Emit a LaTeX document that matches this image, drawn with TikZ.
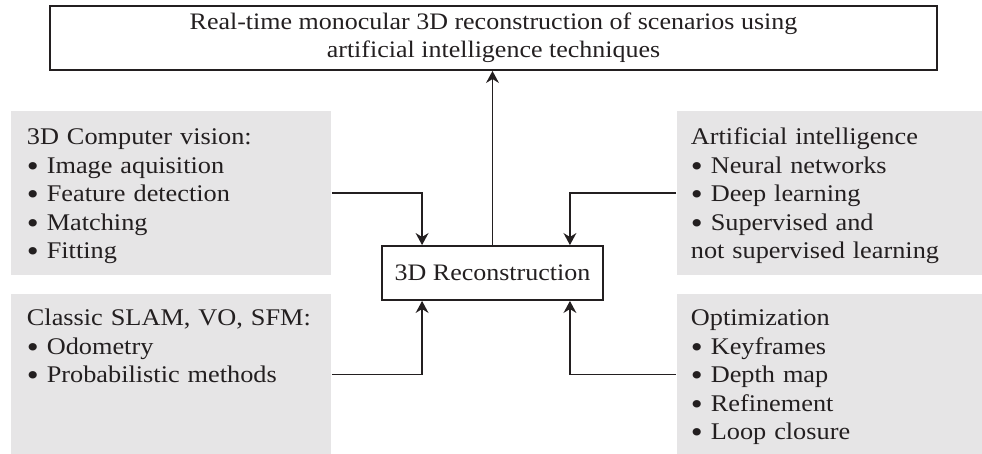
\documentclass[tikz,border=0pt]{standalone}
\usepackage{fontspec}
\setmainfont[FakeStretch=1.1]{Liberation Serif}
\usetikzlibrary{arrows.meta}

\definecolor{inkblack}{RGB}{35,31,32}
\definecolor{panelgray}{RGB}{230,229,230}
\newcommand{\itemdot}{\raisebox{-2.2pt}{\fontsize{22}{20}\selectfont\textbullet}\ }

\begin{document}
\begin{tikzpicture}[x=0.025cm, y=0.025cm, color=inkblack, line width=1.3pt,
  panel/.style={fill=panelgray, anchor=north west, align=left,
    inner xsep=0.4cm, inner ysep=0pt,
    font=\fontsize{17}{20.2}\selectfont},
  flow/.style={-{Stealth[length=0.3cm,width=0.32cm]}}]
\useasboundingbox (0,0) rectangle (982,-454);
% goal of the work
\node[draw, minimum width=22.175cm, minimum height=1.6cm, inner sep=0pt,
  align=center, font=\fontsize{16.8}{19.9}\selectfont] (goal) at (493.5,-38)
  {Real-time monocular 3D reconstruction of scenarios using\\
   artificial intelligence techniques};
% central block
\node[draw, minimum width=5.525cm, minimum height=1.35cm,
  font=\fontsize{16.8}{19}\selectfont] (recon) at (492.5,-273) {3D Reconstruction};
% input fields
\node[panel, text width=7.2cm, text height=0.85cm, text depth=3.25cm] (vision) at (10,-110)
  {3D Computer vision:\\
   \itemdot Image aquisition\\
   \itemdot Feature detection\\
   \itemdot Matching\\
   \itemdot Fitting};
\node[panel, text width=7.2cm, text height=0.8cm, text depth=3.225cm] (slam) at (10,-293)
  {Classic SLAM, VO, SFM:\\
   \itemdot Odometry\\
   \itemdot Probabilistic methods};
\node[panel, inner xsep=0.35cm, text width=6.95cm, text height=0.85cm, text depth=3.25cm] (ai) at (676,-110)
  {Artificial intelligence\\
   \itemdot Neural networks\\
   \itemdot Deep learning\\
   \itemdot Supervised and\\
   not supervised learning};
\node[panel, inner xsep=0.35cm, text width=6.95cm, text height=0.8cm, text depth=3.225cm] (optim) at (676,-293)
  {Optimization\\
   \itemdot Keyframes\\
   \itemdot Depth map\\
   \itemdot Refinement\\
   \itemdot Loop closure};
% connectors
\draw[flow] (recon.north) -- (recon.north |- goal.south);
\draw[flow] (vision.east) -| ([xshift=1.025cm]recon.north west);
\draw[flow] (ai.west) -| ([xshift=-0.85cm]recon.north east);
\draw[flow] (slam.east) -| ([xshift=1.025cm]recon.south west);
\draw[flow] (optim.west) -| ([xshift=-0.85cm]recon.south east);
\end{tikzpicture}
\end{document}
